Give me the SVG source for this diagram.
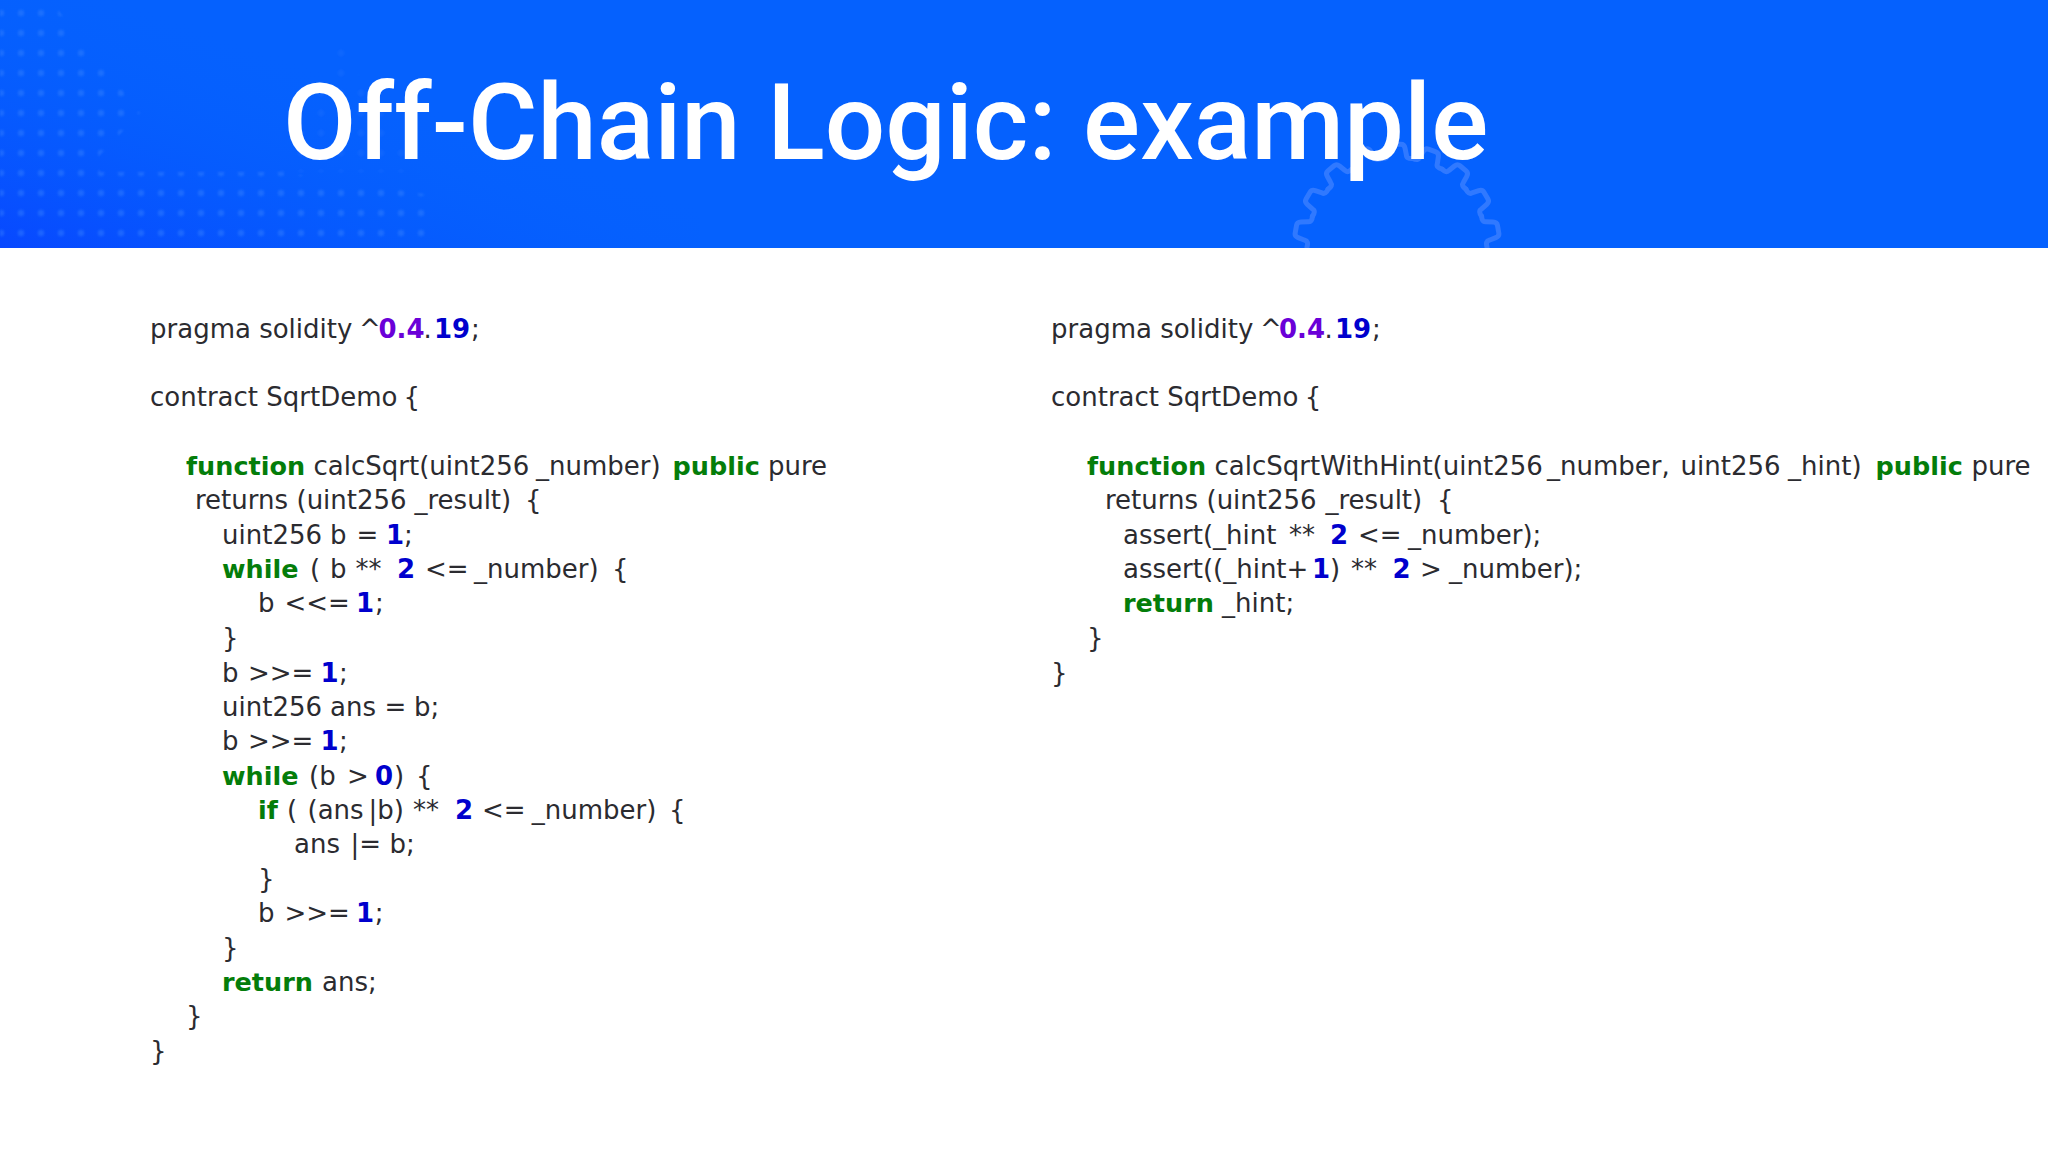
<svg xmlns="http://www.w3.org/2000/svg" width="2048" height="1152" viewBox="0 0 2048 1152">
<defs>
<pattern id="dots" width="20" height="20" patternUnits="userSpaceOnUse" patternTransform="translate(-9 5)"><circle cx="10" cy="8" r="3.2" fill="#4088ff"/></pattern>
<linearGradient id="fade" x1="0" x2="1" y1="1" y2="0"><stop offset="0" stop-color="#0848ff"/><stop offset="0.6" stop-color="#0561fe" stop-opacity="0"/></linearGradient>
<clipPath id="hdr"><rect width="2048" height="248"/></clipPath>
<filter id="soft" x="-10%" y="-10%" width="120%" height="120%"><feGaussianBlur stdDeviation="1"/></filter>
<path id="tooth" d="M-15.6 -88.6Q-9.4 -88 -9.4 -92L-8 -99Q-7.2 -102.7 -4 -102.7L4 -102.7Q7.2 -102.7 8 -99L9.4 -92Q9.4 -88 15.6 -88.6"/>
</defs>
<style>
text{font-family:"DejaVu Sans","Open Sans",sans-serif;font-size:26px;fill:#2b2b30;white-space:pre}
.k{fill:#047d0a;font-weight:700;font-size:25.5px}.n{fill:#0000cd;font-weight:700}.p{fill:#6a00d8;font-weight:700}
.t{font-family:Roboto,sans-serif;font-size:106.6px;font-weight:500;fill:#fff}
.g{fill:none;stroke:#3079ff;stroke-width:5;stroke-linejoin:round;stroke-linecap:round}
</style>
<rect width="2048" height="1152" fill="#fff"/>
<rect width="2048" height="248" fill="#0561fe"/>
<rect width="700" height="248" fill="url(#fade)"/>
<g filter="url(#soft)">
<polygon points="0,0 50,0 140,113 100,155 100,172 260,172 280,172 430,195 430,240 0,240" fill="url(#dots)" opacity="0.38"/>
<polygon points="280,172 340,45 420,172" fill="url(#dots)" opacity="0.14"/>
</g>
<g clip-path="url(#hdr)"><g class="g" transform="translate(1397 247)">
<use href="#tooth" transform="rotate(-80)"/><use href="#tooth" transform="rotate(-60)"/><use href="#tooth" transform="rotate(-40)"/><use href="#tooth" transform="rotate(-20)"/><use href="#tooth"/><use href="#tooth" transform="rotate(20)"/><use href="#tooth" transform="rotate(40)"/><use href="#tooth" transform="rotate(60)"/><use href="#tooth" transform="rotate(80)"/>
</g></g>
<text class="t" x="283" y="159">Off-Chain Logic: example</text>
<g id="left">
<text x="150" y="338">pragma solidity <tspan x="359">^</tspan><tspan class="p" x="378.5">0.4</tspan><tspan x="423.5">.</tspan><tspan class="n" x="434">19</tspan><tspan x="471">;</tspan></text>
<text x="150" y="406">contract SqrtDemo <tspan x="403.6">{</tspan></text>
<text x="186" y="475"><tspan class="k">function</tspan> <tspan x="313.5">calcSqrt(uint256</tspan> <tspan x="536">_number)</tspan> <tspan class="k" x="672.6">public</tspan> <tspan x="768">pure</tspan></text>
<text x="195" y="509">returns <tspan x="296.5">(uint256</tspan> <tspan x="414.5">_result)</tspan> <tspan x="525">{</tspan></text>
<text x="222" y="544">uint256 <tspan x="330">b</tspan> <tspan x="356.5">=</tspan> <tspan class="n" x="386">1</tspan><tspan x="404">;</tspan></text>
<text x="222" y="578"><tspan class="k">while</tspan> <tspan x="310">(</tspan> <tspan x="330">b</tspan> <tspan x="355.5">**</tspan> <tspan class="n" x="397">2</tspan> <tspan x="425">&lt;=</tspan> <tspan x="474">_number)</tspan> <tspan x="612">{</tspan></text>
<text x="258" y="612">b <tspan x="284.5">&lt;&lt;=</tspan> <tspan class="n" x="356">1</tspan><tspan x="375">;</tspan></text>
<text x="222" y="647">}</text>
<text x="222" y="682">b <tspan x="248">&gt;&gt;=</tspan> <tspan class="n" x="320.5">1</tspan><tspan x="339">;</tspan></text>
<text x="222" y="716">uint256 <tspan x="330">ans</tspan> <tspan x="384.5">=</tspan> <tspan x="414">b;</tspan></text>
<text x="222" y="750">b <tspan x="248">&gt;&gt;=</tspan> <tspan class="n" x="320.5">1</tspan><tspan x="339">;</tspan></text>
<text x="222" y="785"><tspan class="k">while</tspan> <tspan x="309">(b</tspan> <tspan x="347">&gt;</tspan> <tspan class="n" x="375">0</tspan><tspan x="394">)</tspan> <tspan x="416">{</tspan></text>
<text x="258" y="819"><tspan class="k">if</tspan> <tspan x="287">(</tspan> <tspan x="307.5">(ans</tspan><tspan x="368.6">|b)</tspan> <tspan x="413">**</tspan> <tspan class="n" x="455">2</tspan> <tspan x="482">&lt;=</tspan> <tspan x="531.8">_number)</tspan> <tspan x="669">{</tspan></text>
<text x="294" y="853">ans <tspan x="350.5">|=</tspan> <tspan x="389.5">b;</tspan></text>
<text x="258" y="888">}</text>
<text x="258" y="922">b <tspan x="284.5">&gt;&gt;=</tspan> <tspan class="n" x="356">1</tspan><tspan x="374.7">;</tspan></text>
<text x="222" y="957">}</text>
<text x="222" y="991"><tspan class="k">return</tspan> <tspan x="322">ans;</tspan></text>
<text x="186" y="1025">}</text>
<text x="150" y="1060">}</text>
</g>
<g id="right">
<text x="1051" y="338">pragma solidity <tspan x="1260">^</tspan><tspan class="p" x="1279">0.4</tspan><tspan x="1324.5">.</tspan><tspan class="n" x="1335">19</tspan><tspan x="1372">;</tspan></text>
<text x="1051" y="406">contract SqrtDemo <tspan x="1304.7">{</tspan></text>
<text x="1087" y="475"><tspan class="k">function</tspan> <tspan x="1214.5">calcSqrtWithHint(uint256</tspan> <tspan x="1547">_number,</tspan> <tspan x="1680.5">uint256</tspan> <tspan x="1788">_hint)</tspan> <tspan class="k" x="1875.5">public</tspan> <tspan x="1971.5">pure</tspan></text>
<text x="1105" y="509">returns <tspan x="1206.5">(uint256</tspan> <tspan x="1325.5">_result)</tspan> <tspan x="1437">{</tspan></text>
<text x="1123" y="544">assert(_hint <tspan x="1289">**</tspan> <tspan class="n" x="1330">2</tspan> <tspan x="1358">&lt;=</tspan> <tspan x="1408">_number);</tspan></text>
<text x="1123" y="578">assert((_hint+<tspan class="n" x="1312">1</tspan><tspan x="1330">)</tspan> <tspan x="1351">**</tspan> <tspan class="n" x="1392.5">2</tspan> <tspan x="1420">&gt;</tspan> <tspan x="1449">_number);</tspan></text>
<text x="1123" y="612"><tspan class="k">return</tspan> <tspan x="1222">_hint;</tspan></text>
<text x="1087" y="647">}</text>
<text x="1051" y="682">}</text>
</g>
</svg>
